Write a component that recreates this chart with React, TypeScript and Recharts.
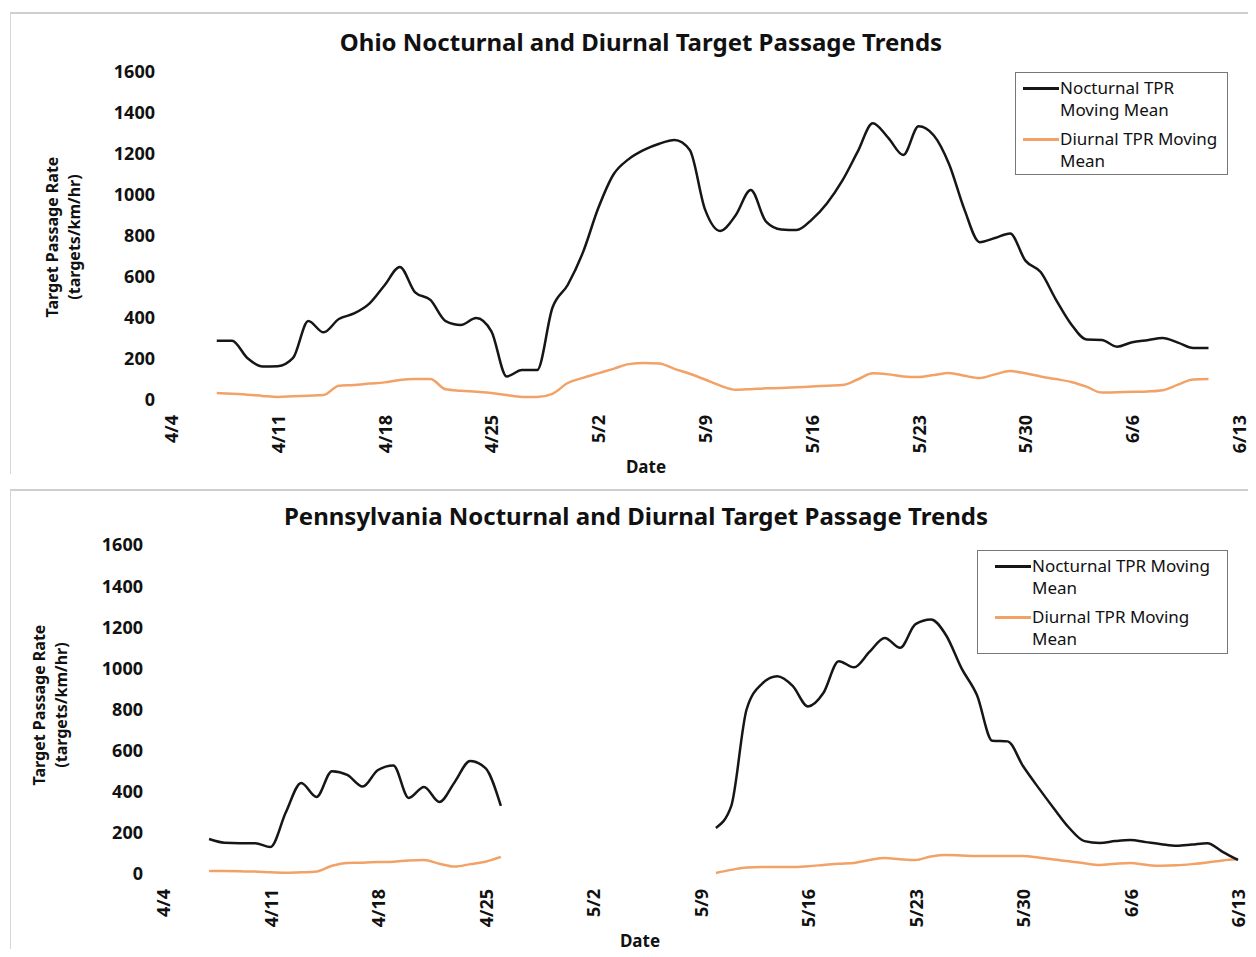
import React from "react";
import { LineChart, Line, XAxis, YAxis } from "recharts";

const FONT = '"Noto Sans", "Open Sans", sans-serif';

// week tick labels, one every 7 days from 4/4
const dateLabels = ["4/4", "4/11", "4/18", "4/25", "5/2", "5/9", "5/16", "5/23", "5/30", "6/6", "6/13"];
const weekTicks = dateLabels.map((_, i) => i * 7);
const yTicks = [0, 200, 400, 600, 800, 1000, 1200, 1400, 1600];

// day index 0 = 4/4 ... 70 = 6/13
const days = Array.from({ length: 71 }, (_, i) => i);

const ohioNocturnal = [
    null, null, null, 289, 289, 205, 163, 165, 205, 385,
    330, 395, 422, 470, 560, 649, 525, 488, 385, 366,
    400, 335, 115, 146, 146, 450, 561, 720, 935, 1100,
    1175, 1220, 1250, 1268, 1220, 930, 825, 900, 1024, 870,
    832, 829, 880, 960, 1070, 1210, 1350, 1280, 1195, 1335,
    1290, 1150, 930, 770, 790, 812, 680, 624, 490, 370,
    295, 293, 260, 282, 292, 302, 280, 254, 254, null,
    null,
];
const ohioDiurnal = [
    null, null, null, 34, 30, 26, 20, 15, 18, 21,
    24, 70, 73, 80, 86, 98, 102, 102, 52, 45,
    40, 34, 24, 15, 15, 30, 83, 108, 130, 152,
    175, 180, 178, 152, 128, 100, 70, 50, 53, 57,
    58, 62, 66, 70, 73, 100, 130, 125, 115, 112,
    122, 132, 118, 107, 125, 141, 130, 115, 102, 88,
    65, 36, 38, 40, 42, 48, 75, 100, 102, null,
    null,
];
const paNocturnal = [
    null, null, null, 170, 152, 150, 150, 131, 300, 443,
    375, 500, 482, 425, 506, 528, 370, 423, 350, 448,
    550, 515, 331, null, null, null, null, null, null, null,
    null, null, null, null, null, null, 224, 330, 800, 925,
    962, 915, 815, 880, 1035, 1005, 1080, 1148, 1100, 1215,
    1238, 1160, 1000, 870, 648, 645, 525, 420, 320, 225,
    160, 151, 160, 165, 155, 145, 137, 143, 150, 108,
    68,
];
const paDiurnal = [
    null, null, null, 15, 14, 13, 12, 8, 6, 8,
    12, 40, 54, 55, 58, 60, 66, 68, 50, 36,
    48, 60, 83, null, null, null, null, null, null, null,
    null, null, null, null, null, null, 5, 20, 32, 34,
    34, 34, 38, 44, 50, 54, 68, 78, 72, 68,
    85, 92, 90, 88, 88, 88, 88, 80, 70, 62,
    52, 44, 50, 54, 45, 40, 42, 48, 56, 66,
    73,
];

const ohioLegend = [["Nocturnal TPR", "Moving Mean"], ["Diurnal TPR Moving", "Mean"]];
const paLegend = [["Nocturnal TPR Moving", "Mean"], ["Diurnal TPR Moving", "Mean"]];

const NIGHT = "#161616";
const DAY = "#f2a266";

const DateTick = (props: any) => {
    const { x, y, payload } = props;
    return (
        <g transform={`translate(${x},${y})`}>
            <text
                transform="rotate(-90)"
                x={-13}
                y={7}
                textAnchor="end"
                fontSize={18}
                fontWeight={700}
                fontFamily={FONT}
                fill="#111"
            >
                {dateLabels[Math.round(payload.value / 7)]}
            </text>
        </g>
    );
};

const LegendBox = ({ left, top, width, height, sample, lines }: any) => (
    <div
        style={{
            position: "absolute",
            left,
            top,
            width,
            height,
            border: "1px solid #777",
            boxSizing: "border-box",
            background: "#fff",
            fontFamily: FONT,
            fontSize: 17,
            lineHeight: "22px",
            color: "#111",
            paddingTop: 4,
        }}
    >
        {lines.map((txt: string[], i: number) => (
            <div key={i} style={{ display: "flex", marginBottom: 7 }}>
                <div
                    style={{
                        width: 36,
                        height: 2.5,
                        background: i === 0 ? NIGHT : DAY,
                        marginTop: 10,
                        marginLeft: sample,
                        marginRight: 1,
                        flex: "none",
                    }}
                />
                <div style={{ whiteSpace: "nowrap" }}>
                    {txt.map((t) => (
                        <div key={t}>{t}</div>
                    ))}
                </div>
            </div>
        ))}
    </div>
);

const Panel = ({ cfg, nocturnal, diurnal, legend }: any) => {
    const data = days.map((d, i) => ({ day: d, night: nocturnal[i], light: diurnal[i] }));
    return (
        <>
            <div
                style={{
                    position: "absolute",
                    left: 2,
                    top: cfg.top + 4,
                    width: 1244,
                    height: 460,
                    borderTop: "2px solid #cfcfcf",
                    borderLeft: "1px solid #d6d6d6",
                    background: "#fff",
                }}
            />
            <div
                style={{
                    position: "absolute",
                    left: cfg.titleX,
                    top: cfg.top + cfg.titleY,
                    transform: "translate(-50%, -50%)",
                    whiteSpace: "nowrap",
                    fontFamily: FONT,
                    fontWeight: 700,
                    fontSize: 24,
                    color: "#111",
                }}
            >
                {cfg.title}
            </div>
            <div
                style={{
                    position: "absolute",
                    left: cfg.yLabelX,
                    top: cfg.top + cfg.yLabelY,
                    transform: "translate(-50%, -50%) rotate(-90deg)",
                    whiteSpace: "nowrap",
                    textAlign: "center",
                    fontFamily: FONT,
                    fontWeight: 700,
                    fontSize: 16,
                    lineHeight: "22px",
                    color: "#111",
                }}
            >
                <div>Target Passage Rate</div>
                <div>(targets/km/hr)</div>
            </div>
            <div
                style={{
                    position: "absolute",
                    left: cfg.dateX,
                    top: cfg.top + cfg.dateY,
                    transform: "translate(-50%, -50%)",
                    fontFamily: FONT,
                    fontWeight: 700,
                    fontSize: 17,
                    color: "#111",
                }}
            >
                Date
            </div>
            <div style={{ position: "absolute", left: 0, top: cfg.top }}>
                <LineChart width={1248} height={470} data={data} margin={cfg.margin} style={{ overflow: "visible" }}>
                    <XAxis
                        dataKey="day"
                        type="number"
                        domain={[0, 70]}
                        ticks={weekTicks}
                        interval={0}
                        axisLine={false}
                        tickLine={false}
                        tickSize={0}
                        height={60}
                        tick={<DateTick />}
                    />
                    <YAxis
                        domain={[0, 1600]}
                        ticks={yTicks}
                        width={60}
                        axisLine={false}
                        tickLine={false}
                        tickSize={0}
                        tickMargin={cfg.yTickGap}
                        tick={{ fontSize: 18, fontWeight: 700, fill: "#111", fontFamily: FONT }}
                    />
                    <Line
                        type="monotone"
                        dataKey="light"
                        stroke={DAY}
                        strokeWidth={2.5}
                        dot={false}
                        connectNulls={false}
                        isAnimationActive={false}
                    />
                    <Line
                        type="monotone"
                        dataKey="night"
                        stroke={NIGHT}
                        strokeWidth={2.5}
                        dot={false}
                        connectNulls={false}
                        isAnimationActive={false}
                    />
                </LineChart>
            </div>
            <LegendBox {...cfg.legendBox} top={cfg.top + cfg.legendBox.top} lines={legend} />
        </>
    );
};

const ohioCfg = {
    top: 0,
    title: "Ohio Nocturnal and Diurnal Target Passage Trends",
    titleX: 633,
    titleY: 33,
    yLabelX: 55,
    yLabelY: 229,
    dateX: 638,
    dateY: 458,
    yTickGap: 16,
    margin: { top: 64, right: 17, bottom: 18, left: 103 },
    legendBox: { left: 1007, top: 64, width: 213, height: 103, sample: 7 },
};

const paCfg = {
    top: 477,
    title: "Pennsylvania Nocturnal and Diurnal Target Passage Trends",
    titleX: 628,
    titleY: 30,
    yLabelX: 42,
    yLabelY: 220,
    dateX: 632,
    dateY: 455,
    yTickGap: 20,
    margin: { top: 60, right: 18, bottom: 21, left: 95 },
    legendBox: { left: 969, top: 65, width: 251, height: 104, sample: 17 },
};

export default function App() {
    return (
        <div style={{ position: "relative", width: 1240, height: 941, background: "#fff" }}>
            <Panel cfg={ohioCfg} nocturnal={ohioNocturnal} diurnal={ohioDiurnal} legend={ohioLegend} />
            <Panel cfg={paCfg} nocturnal={paNocturnal} diurnal={paDiurnal} legend={paLegend} />
        </div>
    );
}
